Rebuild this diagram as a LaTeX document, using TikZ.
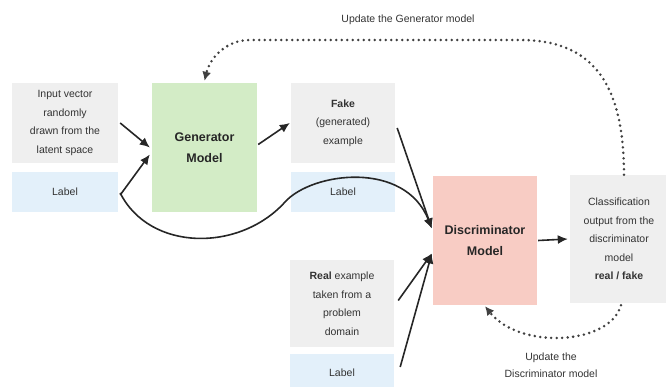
\documentclass[tikz,border=0pt]{standalone}
\usepackage{fontspec}
\setmainfont{Liberation Sans}
\usetikzlibrary{arrows.meta,calc}
\definecolor{boxgrey}{HTML}{EFEFEF}
\definecolor{boxblue}{HTML}{E3F0FA}
\definecolor{boxgreen}{HTML}{D3ECC6}
\definecolor{boxpink}{HTML}{F8CCC4}
\definecolor{txt}{HTML}{333333}
\tikzset{
  box/.style={rectangle, inner sep=0pt, align=center, text=txt,
    font=\fontsize{10.5}{18.5}\selectfont},
  greybox/.style={box, fill=boxgrey},
  bluebox/.style={box, fill=boxblue},
  modelbox/.style={box, text=black!85, font=\fontsize{12.5}{21}\selectfont\bfseries},
  flow/.style={line width=1.6pt, black!85, -{Latex[length=10pt,width=9pt]}},
  feedback/.style={line width=2.8pt, black!75, dash pattern=on 0pt off 5.5pt, line cap=round,
    -{Latex[length=9pt,width=9pt]}},
  note/.style={text=txt, align=center, font=\fontsize{10.5}{17}\selectfont}
}
\begin{document}
\begin{tikzpicture}[x=1pt,y=-1pt]
\useasboundingbox (0,0) rectangle (666,387);
% boxes
\node[greybox, minimum width=106pt, minimum height=80pt] (input) at (65,123)
  {Input vector\\randomly\\drawn from the\\latent space};
\node[bluebox, minimum width=106pt, minimum height=40pt] (labelL) at (65,192) {Label};
\node[modelbox, fill=boxgreen, minimum width=105pt, minimum height=129pt] (gen) at (204.5,147.5)
  {Generator\\Model};
\node[greybox, minimum width=104pt, minimum height=80pt] (fake) at (343,123)
  {\textbf{Fake}\\(generated)\\example};
\node[bluebox, minimum width=104pt, minimum height=40pt] (labelM) at (343,192) {Label};
\node[modelbox, fill=boxpink, minimum width=104pt, minimum height=129pt] (disc) at (485,240.5)
  {Discriminator\\Model};
\node[greybox, minimum width=98pt, minimum height=128pt] (class) at (619,239)
  {Classification\\output from the\\discriminator\\model\\\textbf{real / fake}};
\node[greybox, minimum width=104pt, minimum height=87pt] (real) at (342,303.5)
  {\textbf{Real} example\\taken from a\\problem\\domain};
\node[bluebox, minimum width=104pt, minimum height=38pt] (labelB) at (342,373) {Label};
% texts
\node[note] (tgen) at (408,20) {Update the Generator model};
\node[note] (tdisc) at (551,365) {Update the\\Discriminator model};
% flow arrows
\coordinate (dtop) at ($(disc.west)+(-1,-12)$);
\coordinate (dbot) at ($(disc.west)+(-1,13)$);
\draw[flow] ($(input.east)+(2,0)$) -- ($(gen.west)+(-2,0)$);
\draw[flow] ($(labelL.east)+(2,3)$) -- ($(gen.west)+(-2,7)$);
\draw[flow] ($(gen.east)+(1,-3)$) -- ($(fake.west)+(-1,0)$);
\draw[flow] ($(fake.east)+(2,5)$) -- (dtop);
\draw[flow] ($(labelL.east)+(2,1)$) .. controls (150,252) and (240,252) .. (285,202)
  .. controls (312,172) and (405,160) .. (dtop);
\draw[flow] ($(real.east)+(4,-3)$) -- (dbot);
\draw[flow] ($(labelB.east)+(6,-6)$) -- (dbot);
\draw[flow] ($(disc.east)+(1,0)$) -- ($(class.west)+(-2,0)$);
% feedback
\draw[feedback] ($(class.north)+(5,0)$) .. controls (624,80) and (590,40) .. (520,40)
  -- (250,40) .. controls (226,40) and (210,58) .. ($(gen.north)+(0,-2)$);
\draw[feedback] ($(class.south)+(2,2)$) .. controls (610,345) and (520,350) .. ($(disc.south)+(0,1)$);
\end{tikzpicture}
\end{document}
